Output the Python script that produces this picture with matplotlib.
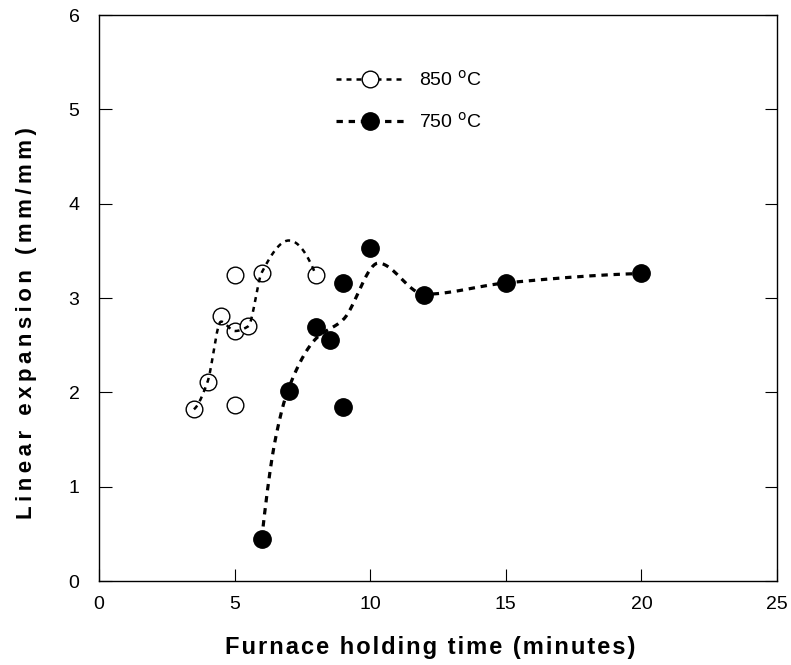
import numpy as np
import matplotlib
matplotlib.use("Agg")
import matplotlib.pyplot as plt
from matplotlib.lines import Line2D

plt.rcParams['font.family'] = ['Liberation Sans', 'DejaVu Sans']

# measured points, 850 C
t850 = [3.5, 4, 4.5, 5, 5.5, 6, 8, 5, 5]
e850 = [1.82, 2.11, 2.81, 2.65, 2.70, 3.27, 3.24, 3.24, 1.87]
# measured points, 750 C
t750 = [6, 7, 8, 8.5, 9, 9, 10, 12, 15, 20]
e750 = [0.45, 2.01, 2.69, 2.55, 3.16, 1.84, 3.53, 3.03, 3.16, 3.26]

# smoothed trend knots
trend850_x = [3.5, 4, 4.5, 5, 5.5, 6, 7, 8]
trend850_y = [1.82, 2.11, 2.75, 2.65, 2.70, 3.27, 3.61, 3.24]
trend750_x = [6, 6.5, 7, 8, 9, 10.3, 12, 15, 20]
trend750_y = [0.45, 1.50, 2.05, 2.57, 2.77, 3.37, 3.04, 3.16, 3.26]

xticks = [0, 5, 10, 15, 20, 25]
yticks = [0, 1, 2, 3, 4, 5, 6]

xlabel = 'Furnace holding time (minutes)'
ylabel = 'Linear expansion (mm/mm)'


def pchip(x, y, xs):
    x = np.asarray(x, float)
    y = np.asarray(y, float)
    h = np.diff(x)
    d = np.diff(y) / h
    n = len(x)
    m = np.zeros(n)
    for k in range(1, n - 1):
        if d[k - 1] * d[k] > 0:
            w1 = 2 * h[k] + h[k - 1]
            w2 = h[k] + 2 * h[k - 1]
            m[k] = (w1 + w2) / (w1 / d[k - 1] + w2 / d[k])

    def end_slope(h0, h1, d0, d1):
        s = ((2 * h0 + h1) * d0 - h0 * d1) / (h0 + h1)
        if np.sign(s) != np.sign(d0):
            s = 0.0
        elif np.sign(d0) != np.sign(d1) and abs(s) > abs(3 * d0):
            s = 3 * d0
        return s

    m[0] = end_slope(h[0], h[1], d[0], d[1])
    m[-1] = end_slope(h[-1], h[-2], d[-1], d[-2])
    idx = np.clip(np.searchsorted(x, xs) - 1, 0, n - 2)
    t = (xs - x[idx]) / h[idx]
    h00 = 2 * t**3 - 3 * t**2 + 1
    h10 = t**3 - 2 * t**2 + t
    h01 = -2 * t**3 + 3 * t**2
    h11 = t**3 - t**2
    return h00 * y[idx] + h10 * h[idx] * m[idx] + h01 * y[idx + 1] + h11 * h[idx] * m[idx + 1]


def spaced(s, sep):
    # the original labels are letter-spaced
    return sep.join(s)


fig = plt.figure(figsize=(7.91, 6.65), dpi=100)
ax = fig.add_axes([0.1252, 0.1263, 0.8571, 0.8511])

xs850 = np.linspace(trend850_x[0], trend850_x[-1], 300)
xs750 = np.linspace(trend750_x[0], trend750_x[-1], 400)
ax.plot(xs850, pchip(trend850_x, trend850_y, xs850), color='black', lw=1.8,
        dashes=(2, 2), zorder=2)
ax.plot(xs750, pchip(trend750_x, trend750_y, xs750), color='black', lw=2.3,
        dashes=(2, 1.8), zorder=2)

ax.plot(t850, e850, 'o', ms=12, mfc='white', mec='black', mew=1.0, zorder=1)
ax.plot(t750, e750, 'o', ms=12.5, mfc='black', mec='black', mew=1.0, zorder=3)

ax.set_xlim(0, 25)
ax.set_ylim(0, 6)
ax.set_xticks(xticks)
ax.set_yticks(yticks)
ax.tick_params(direction='in', length=9, width=0.8, labelsize=14,
               right=True, top=False)
ax.tick_params(axis='x', pad=11)
ax.tick_params(axis='y', pad=14)
for s in ax.spines.values():
    s.set_linewidth(1.0)

ax.set_xlabel(spaced(xlabel, '\u200a'), fontsize=17, fontweight='bold')
ax.set_ylabel(spaced(ylabel, '\u2009'), fontsize=16, fontweight='bold')
ax.xaxis.set_label_coords(0.488, -0.097)
ax.yaxis.set_label_coords(-0.092, 0.456)

handles = [
    Line2D([], [], color='black', lw=1.8, dashes=(2, 2), marker='o', ms=12,
           mfc='white', mec='black', mew=1.0),
    Line2D([], [], color='black', lw=2.3, dashes=(2, 1.8), marker='o', ms=12.5,
           mfc='black', mec='black'),
]
ax.legend(handles, [r'850 $^{\mathrm{o}}$C', r'750 $^{\mathrm{o}}$C'],
          loc='upper left', bbox_to_anchor=(0.323, 0.935), frameon=False,
          fontsize=14, handlelength=3.5, handletextpad=0.8, labelspacing=1.15)

fig.savefig('out.png', dpi=100)
